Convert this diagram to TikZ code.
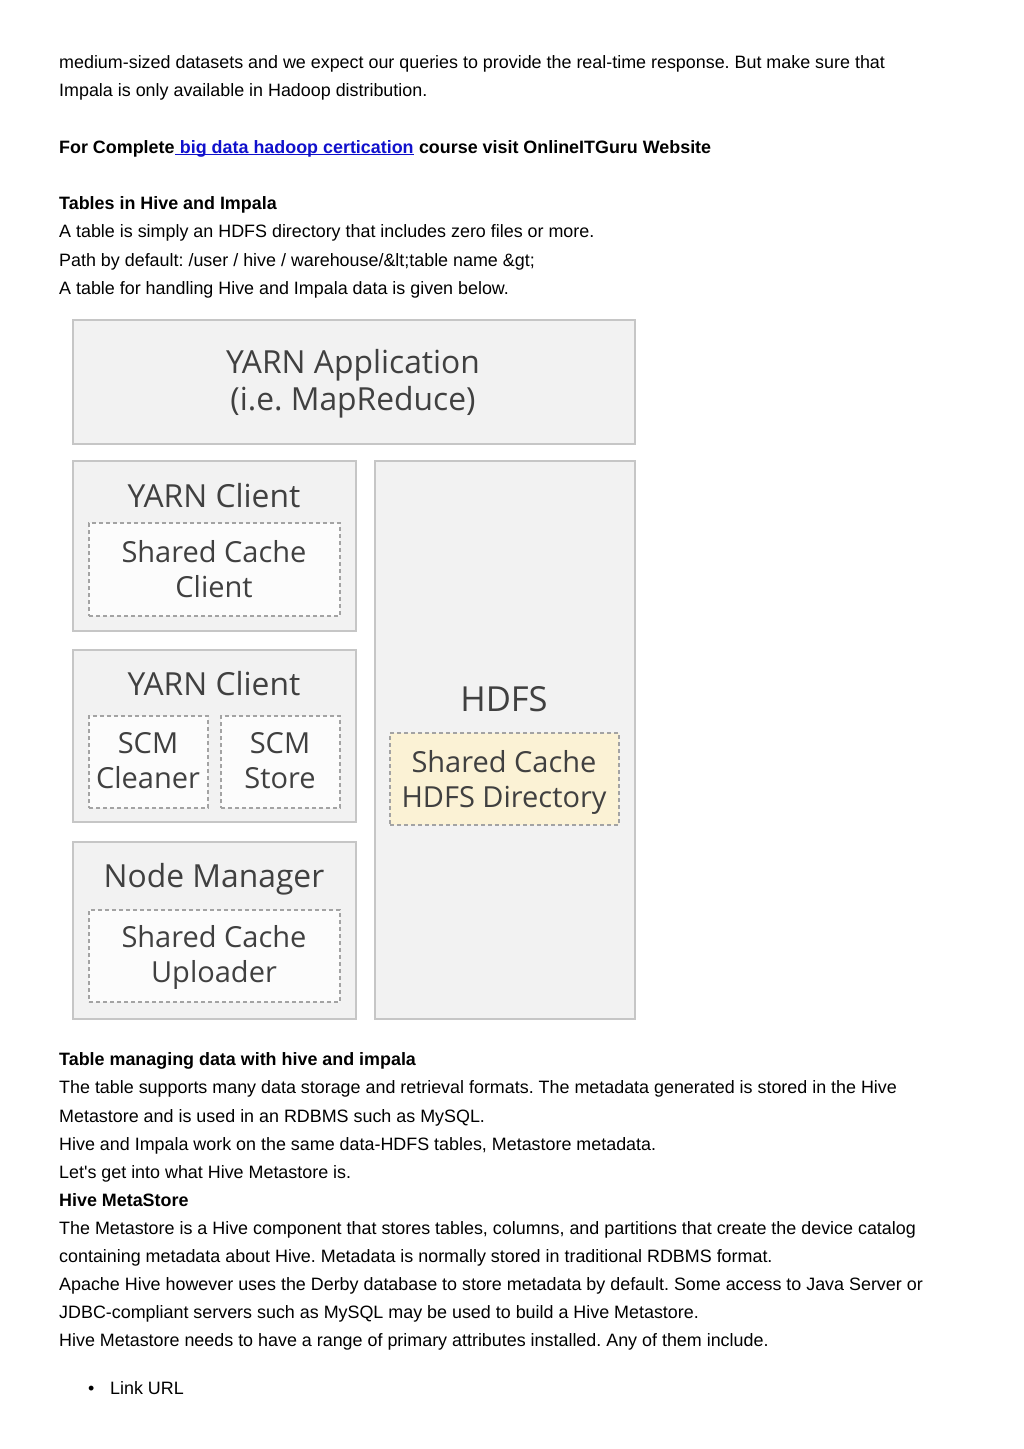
\documentclass[tikz,border=0pt]{standalone}
\usepackage{fontspec}
\setmainfont{Liberation Sans}
\newfontfamily\diafont{Open Sans}
\definecolor{panelfill}{HTML}{F2F2F2}
\definecolor{paneledge}{HTML}{C6C6C6}
\definecolor{dashedge}{HTML}{A3A3A3}
\definecolor{cachefill}{HTML}{FCFCFC}
\definecolor{dirfill}{HTML}{FBF2D5}
\definecolor{diatext}{HTML}{404040}
\definecolor{linkblue}{HTML}{1010CC}
\frenchspacing
\begin{document}
\begin{tikzpicture}[x=1pt,y=-1pt,
    panel/.style={draw=paneledge,fill=panelfill,line width=1.5pt,inner sep=0pt},
    cache/.style={draw=dashedge,fill=cachefill,line width=1.1pt,dash pattern=on 4pt off 3pt,inner sep=0pt},
    big/.style={font=\diafont\fontsize{31.8}{38}\selectfont,text=diatext,anchor=base,inner sep=0pt},
    small/.style={font=\diafont\fontsize{29}{35}\selectfont,text=diatext,anchor=base,inner sep=0pt},
    body/.style={font=\fontsize{17.9}{28}\selectfont,anchor=base west,inner sep=0pt},
    head/.style={body,font=\fontsize{17.9}{28}\selectfont\bfseries}]
    \useasboundingbox[fill=white] (0,0) rectangle (1024,1449);

    % text above the figure
    \foreach \n/\y/\t in {a/68/{medium-sized datasets and we expect our queries to provide the real-time response. But make sure that},
        b/96/{Impala is only available in Hadoop distribution.},
        c/237/{A table is simply an HDFS directory that includes zero files or more.},
        d/266/{Path by default: /user / hive / warehouse/\&lt;table name \&gt;},
        e/294/{A table for handling Hive and Impala data is given below.}}
        \node[body] (top\n) at (59,\y) {\t};
    \node[head] (promo) at (59,153) {For Complete};
    \node[head,text=linkblue] (link) at (promo.base east) {\ big data hadoop certication};
    \node[head] (visit) at (link.base east) {\ course visit OnlineITGuru Website};
    \draw[linkblue,line width=1.2pt] ([yshift=-1.8pt]link.base west) -- ([yshift=-1.8pt]link.base east);
    \node[head] (tables) at (59,209) {Tables in Hive and Impala};

    % the figure
    \node[panel,minimum width=562pt,minimum height=124pt] (app) at (354,382) {};
    \node[big] (appa) at (353,373) {YARN Application};
    \node[big] (appb) at (353,410) {(i.e. MapReduce)};

    \node[panel,minimum width=283pt,minimum height=170pt] (client) at (214.5,546) {};
    \node[big] (clienttxt) at (214,507) {YARN Client};
    \node[cache,minimum width=251pt,minimum height=93pt] (scc) at (214.5,569.5) {};
    \node[small] (scca) at (214,562) {Shared Cache};
    \node[small] (sccb) at (214,597) {Client};

    \node[panel,minimum width=283pt,minimum height=172pt] (scm) at (214.5,736) {};
    \node[big] (scmtxt) at (214,695) {YARN Client};
    \node[cache,minimum width=119pt,minimum height=92pt] (cleaner) at (148.5,762) {};
    \node[cache,minimum width=119pt,minimum height=92pt] (store) at (280.5,762) {};
    \node[small] (cleanera) at (148,753) {SCM};
    \node[small] (cleanerb) at (148,788) {Cleaner};
    \node[small] (storea) at (280,753) {SCM};
    \node[small] (storeb) at (280,788) {Store};

    \node[panel,minimum width=283pt,minimum height=177pt] (nm) at (214.5,930.5) {};
    \node[big] (nmtxt) at (214,887) {Node Manager};
    \node[cache,minimum width=251pt,minimum height=92pt] (upl) at (214.5,956) {};
    \node[small] (upla) at (214,947) {Shared Cache};
    \node[small] (uplb) at (214,982) {Uploader};

    \node[panel,minimum width=260pt,minimum height=558pt] (hdfs) at (505,740) {};
    \node[big,font=\diafont\fontsize{34.5}{40}\selectfont] (hdfstxt) at (504,711) {HDFS};
    \node[cache,fill=dirfill,minimum width=229pt,minimum height=92pt] (dir) at (504.5,779) {};
    \node[small] (dira) at (504,772) {Shared Cache};
    \node[small] (dirb) at (504,807) {HDFS Directory};

    % text below the figure
    \node[head] (managing) at (59,1065) {Table managing data with hive and impala};
    \foreach \n/\y/\t in {f/1093/{The table supports many data storage and retrieval formats. The metadata generated is stored in the Hive},
        g/1122/{Metastore and is used in an RDBMS such as MySQL.},
        h/1150/{Hive and Impala work on the same data-HDFS tables, Metastore metadata.},
        i/1178/{Let\textquotesingle s get into what Hive Metastore is.},
        j/1234/{The Metastore is a Hive component that stores tables, columns, and partitions that create the device catalog},
        k/1262/{containing metadata about Hive. Metadata is normally stored in traditional RDBMS format.},
        l/1290/{Apache Hive however uses the Derby database to store metadata by default. Some access to Java Server or},
        m/1318/{JDBC-compliant servers such as MySQL may be used to build a Hive Metastore.},
        n/1346/{Hive Metastore needs to have a range of primary attributes installed. Any of them include.}}
        \node[body] (low\n) at (59,\y) {\t};
    \node[head] (metastore) at (59,1206) {Hive MetaStore};
    \node[body] (bullet) at (88,1394) {•};
    \node[body] (linkurl) at (110,1394) {Link URL};
\end{tikzpicture}
\end{document}
